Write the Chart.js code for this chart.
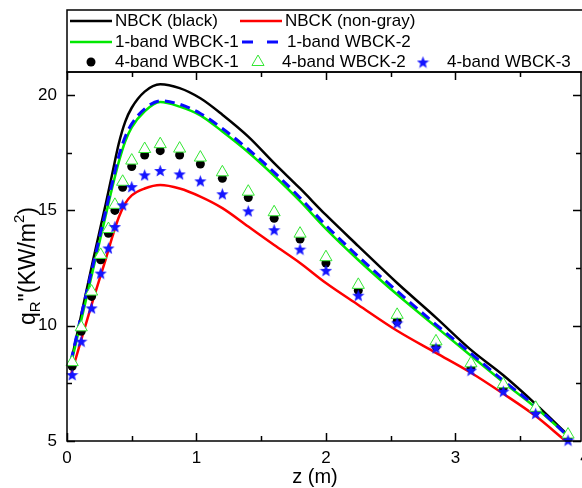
<!DOCTYPE html>
<html>
<head>
<meta charset="utf-8">
<script src="https://cdn.jsdelivr.net/npm/chart.js@4.4.0/dist/chart.umd.min.js"></script>
<style>
  html, body { margin: 0; padding: 0; background: #fff; }
  canvas { display: block; }
</style>
</head>
<body>
<canvas id="qrChart" width="582" height="488"></canvas>
<script>
// values
const lineZ = [0.03, 0.1, 0.2, 0.3, 0.35, 0.4, 0.45, 0.5, 0.6, 0.72, 0.87, 1.03, 1.2, 1.4, 1.6, 1.8, 2.0, 2.25, 2.55, 2.85, 3.12, 3.37, 3.62, 3.88];
const redZ  = [0.03, 0.1, 0.2, 0.3, 0.35, 0.4, 0.45, 0.5, 0.6, 0.72, 0.87, 1.03, 1.2, 1.4, 1.6, 1.8, 2.0, 2.25, 2.55, 2.85, 3.12, 3.37, 3.62, 3.84];
const nbckBlack    = [8.4, 10.2, 12.8, 15.3, 16.6, 17.9, 18.85, 19.45, 20.15, 20.47, 20.3, 19.86, 19.15, 18.2, 17.05, 15.95, 14.8, 13.45, 11.85, 10.35, 8.95, 7.85, 6.6, 5.2];
const nbckNonGray  = [7.85, 9.2, 11.1, 12.9, 13.85, 14.7, 15.3, 15.65, 15.95, 16.1, 15.95, 15.6, 15.1, 14.3, 13.5, 12.72, 11.85, 10.9, 9.78, 8.82, 7.96, 7.05, 6.08, 5.05];
const oneBandWbck1 = [8.3, 10.0, 12.4, 14.8, 16.0, 17.1, 18.0, 18.6, 19.3, 19.7, 19.5, 19.12, 18.42, 17.52, 16.5, 15.4, 14.2, 12.85, 11.35, 9.95, 8.7, 7.55, 6.45, 5.15];
const oneBandWbck2 = [8.45, 10.2, 12.6, 15.0, 16.2, 17.35, 18.2, 18.75, 19.4, 19.75, 19.6, 19.2, 18.55, 17.65, 16.65, 15.55, 14.35, 13.0, 11.5, 10.05, 8.8, 7.62, 6.5, 5.15];

const markerZ = [0.04, 0.11, 0.19, 0.26, 0.32, 0.37, 0.43, 0.5, 0.6, 0.72, 0.87, 1.03, 1.2, 1.4, 1.6, 1.8, 2.0, 2.25, 2.55, 2.85, 3.12, 3.37, 3.62, 3.87];
const fourBandWbck1 = [8.24, 9.76, 11.27, 12.86, 14.01, 15.0, 16.0, 16.9, 17.4, 17.59, 17.4, 17.01, 16.39, 15.56, 14.66, 13.76, 12.72, 11.53, 10.19, 9.11, 8.17, 7.31, 6.3, 5.14];
const fourBandWbck2 = [8.42, 9.93, 11.48, 13.07, 14.19, 15.24, 16.24, 17.16, 17.66, 17.87, 17.68, 17.29, 16.65, 15.81, 14.92, 13.99, 12.97, 11.77, 10.47, 9.32, 8.37, 7.46, 6.44, 5.28];
const fourBandWbck3 = [7.88, 9.33, 10.77, 12.28, 13.37, 14.3, 15.24, 16.03, 16.54, 16.73, 16.58, 16.28, 15.72, 14.98, 14.16, 13.32, 12.4, 11.32, 10.12, 9.04, 8.07, 7.16, 6.2, 5.04];

const xTicks = [0, 1, 2, 3, 4];
const yTicks = [5, 10, 15, 20];
const xRange = [0, 3.97];
const yRange = [5, 21];

const FONT = '"Liberation Sans", Arial, sans-serif';

function pairs(xs, ys) {
  return xs.map((x, i) => ({ x: x, y: ys[i] }));
}

// filled 5-point star, Chart.js 'star' is only a line asterisk
function makeStar(size, color) {
  const c = document.createElement('canvas');
  c.width = size;
  c.height = size;
  const g = c.getContext('2d');
  const ro = size / 2, ri = ro * 0.42;
  const cx = size / 2, cy = size / 2 + ro * 0.1;
  g.beginPath();
  for (let i = 0; i < 10; i++) {
    const r = i % 2 ? ri : ro;
    const a = -Math.PI / 2 + i * Math.PI / 5;
    g.lineTo(cx + r * Math.cos(a), cy + r * Math.sin(a));
  }
  g.closePath();
  g.fillStyle = color;
  g.fill();
  return c;
}
const starImg = makeStar(13, '#1414ff');

// frame, inward ticks, axis titles and the boxed legend
const decorations = {
  id: 'decorations',
  afterDatasetsDraw(chart) {
    const { ctx, chartArea: a, scales: { x, y } } = chart;
    ctx.save();
    ctx.strokeStyle = '#000';
    ctx.lineWidth = 1.5;
    ctx.strokeRect(a.left, a.top, a.right - a.left, a.bottom - a.top);

    ctx.beginPath();
    for (let v = 0; v <= xRange[1]; v += 0.5) {
      const px = Math.round(x.getPixelForValue(v)) + 0.5;
      const len = v % 1 === 0 ? 8 : 5;
      ctx.moveTo(px, a.bottom); ctx.lineTo(px, a.bottom - len);
      ctx.moveTo(px, a.top); ctx.lineTo(px, a.top + len);
    }
    for (let v = 5; v <= 20; v += 2.5) {
      const py = Math.round(y.getPixelForValue(v)) + 0.5;
      const len = v % 5 === 0 ? 8 : 5;
      ctx.moveTo(a.left, py); ctx.lineTo(a.left + len, py);
      ctx.moveTo(a.right, py); ctx.lineTo(a.right - len, py);
    }
    ctx.stroke();

    // x title
    ctx.fillStyle = '#000';
    ctx.font = '20px ' + FONT;
    ctx.textAlign = 'center';
    ctx.textBaseline = 'middle';
    ctx.fillText('z (m)', 315, 477);

    // y title with subscript and superscript
    const parts = [
      { t: 'q', f: '23px ', dy: 0 },
      { t: 'R', f: '15px ', dy: 5 },
      { t: '"(KW/m', f: '23px ', dy: 0 },
      { t: '2', f: '15px ', dy: -11 },
      { t: ')', f: '23px ', dy: 0 }
    ];
    let total = 0;
    parts.forEach(p => { ctx.font = p.f + FONT; p.w = ctx.measureText(p.t).width; total += p.w; });
    ctx.translate(35, 266);
    ctx.rotate(-Math.PI / 2);
    ctx.textAlign = 'left';
    ctx.textBaseline = 'alphabetic';
    let cx = -total / 2;
    parts.forEach(p => { ctx.font = p.f + FONT; ctx.fillText(p.t, cx, p.dy); cx += p.w; });
    ctx.setTransform(1, 0, 0, 1, 0, 0);

    // legend box
    ctx.lineWidth = 1.5;
    ctx.strokeRect(a.left, 10, chart.width - a.left + 5, a.top - 10);

    const ds = chart.data.datasets;
    const items = [
      { i: 0, kind: 'line', x0: 70, x1: 112, y: 21, tx: 115 },
      { i: 1, kind: 'line', x0: 240, x1: 282, y: 21, tx: 285 },
      { i: 2, kind: 'line', x0: 70, x1: 112, y: 42, tx: 115 },
      { i: 3, kind: 'line', x0: 242, x1: 282, y: 42, tx: 287, dash: [11, 14] },
      { i: 4, kind: 'point', x0: 91, y: 62, tx: 115 },
      { i: 5, kind: 'point', x0: 258, y: 62, tx: 282 },
      { i: 6, kind: 'point', x0: 423, y: 62, tx: 447 }
    ];
    ctx.font = '17px ' + FONT;
    items.forEach(it => {
      const d = ds[it.i];
      if (it.kind === 'line') {
        ctx.save();
        ctx.strokeStyle = d.borderColor;
        ctx.lineWidth = d.borderWidth;
        ctx.setLineDash(it.dash || []);
        ctx.beginPath();
        ctx.moveTo(it.x0, it.y);
        ctx.lineTo(it.x1, it.y);
        ctx.stroke();
        ctx.restore();
      } else {
        ctx.save();
        ctx.fillStyle = d.pointBackgroundColor;
        ctx.strokeStyle = d.pointBorderColor;
        ctx.lineWidth = d.pointBorderWidth;
        Chart.helpers.drawPoint(ctx, { pointStyle: d.pointStyle, radius: d.pointRadius, borderWidth: d.pointBorderWidth, rotation: 0 }, it.x0, it.y);
        ctx.restore();
      }
      ctx.fillStyle = '#000';
      ctx.textAlign = 'left';
      ctx.textBaseline = 'middle';
      ctx.fillText(d.label, it.tx, it.y);
    });
    ctx.restore();
  }
};

Chart.defaults.font.family = FONT;
Chart.defaults.color = '#000';

new Chart(document.getElementById('qrChart'), {
  type: 'line',
  data: {
    datasets: [
      { label: 'NBCK (black)', data: pairs(lineZ, nbckBlack), borderColor: '#000000', borderWidth: 2.5, pointRadius: 0, cubicInterpolationMode: 'monotone', order: 7 },
      { label: 'NBCK (non-gray)', data: pairs(redZ, nbckNonGray), borderColor: '#ff0000', borderWidth: 2.5, pointRadius: 0, cubicInterpolationMode: 'monotone', order: 6 },
      { label: '1-band WBCK-1', data: pairs(lineZ, oneBandWbck1), borderColor: '#00e800', borderWidth: 2.5, pointRadius: 0, cubicInterpolationMode: 'monotone', order: 5 },
      { label: '1-band WBCK-2', data: pairs(lineZ, oneBandWbck2), borderColor: '#0a0aff', borderWidth: 3, borderDash: [10, 6], pointRadius: 0, cubicInterpolationMode: 'monotone', order: 4 },
      { label: '4-band WBCK-1', data: pairs(markerZ, fourBandWbck1), showLine: false, pointStyle: 'circle', pointRadius: 4.5, pointBackgroundColor: '#000000', pointBorderColor: '#000000', pointBorderWidth: 0, clip: false, order: 3 },
      { label: '4-band WBCK-2', data: pairs(markerZ, fourBandWbck2), showLine: false, pointStyle: 'triangle', pointRadius: 7, pointBackgroundColor: '#ffffff', pointBorderColor: '#33e633', pointBorderWidth: 1, clip: false, order: 2 },
      { label: '4-band WBCK-3', data: pairs(markerZ, fourBandWbck3), showLine: false, pointStyle: starImg, pointRadius: 6, pointBackgroundColor: '#1414ff', pointBorderColor: '#1414ff', pointBorderWidth: 0, clip: false, order: 1 }
    ]
  },
  options: {
    responsive: false,
    animation: false,
    layout: { autoPadding: false, padding: { top: 72, right: 1, left: 0, bottom: 0 } },
    plugins: { legend: { display: false }, tooltip: { enabled: false } },
    scales: {
      x: {
        type: 'linear',
        min: xRange[0],
        max: xRange[1],
        grid: { display: false, drawTicks: false },
        border: { display: false },
        ticks: { padding: 7, font: { size: 17 }, color: '#000' },
        afterBuildTicks: s => { s.ticks = xTicks.map(v => ({ value: v })); },
        afterFit: s => { s.height = 47; s.paddingRight = 0; }
      },
      y: {
        min: yRange[0],
        max: yRange[1],
        grid: { display: false, drawTicks: false },
        border: { display: false },
        ticks: { padding: 10, font: { size: 17 }, color: '#000' },
        afterBuildTicks: s => { s.ticks = yTicks.map(v => ({ value: v })); },
        afterFit: s => { s.width = 67; }
      }
    }
  },
  plugins: [decorations]
});
</script>
</body>
</html>
